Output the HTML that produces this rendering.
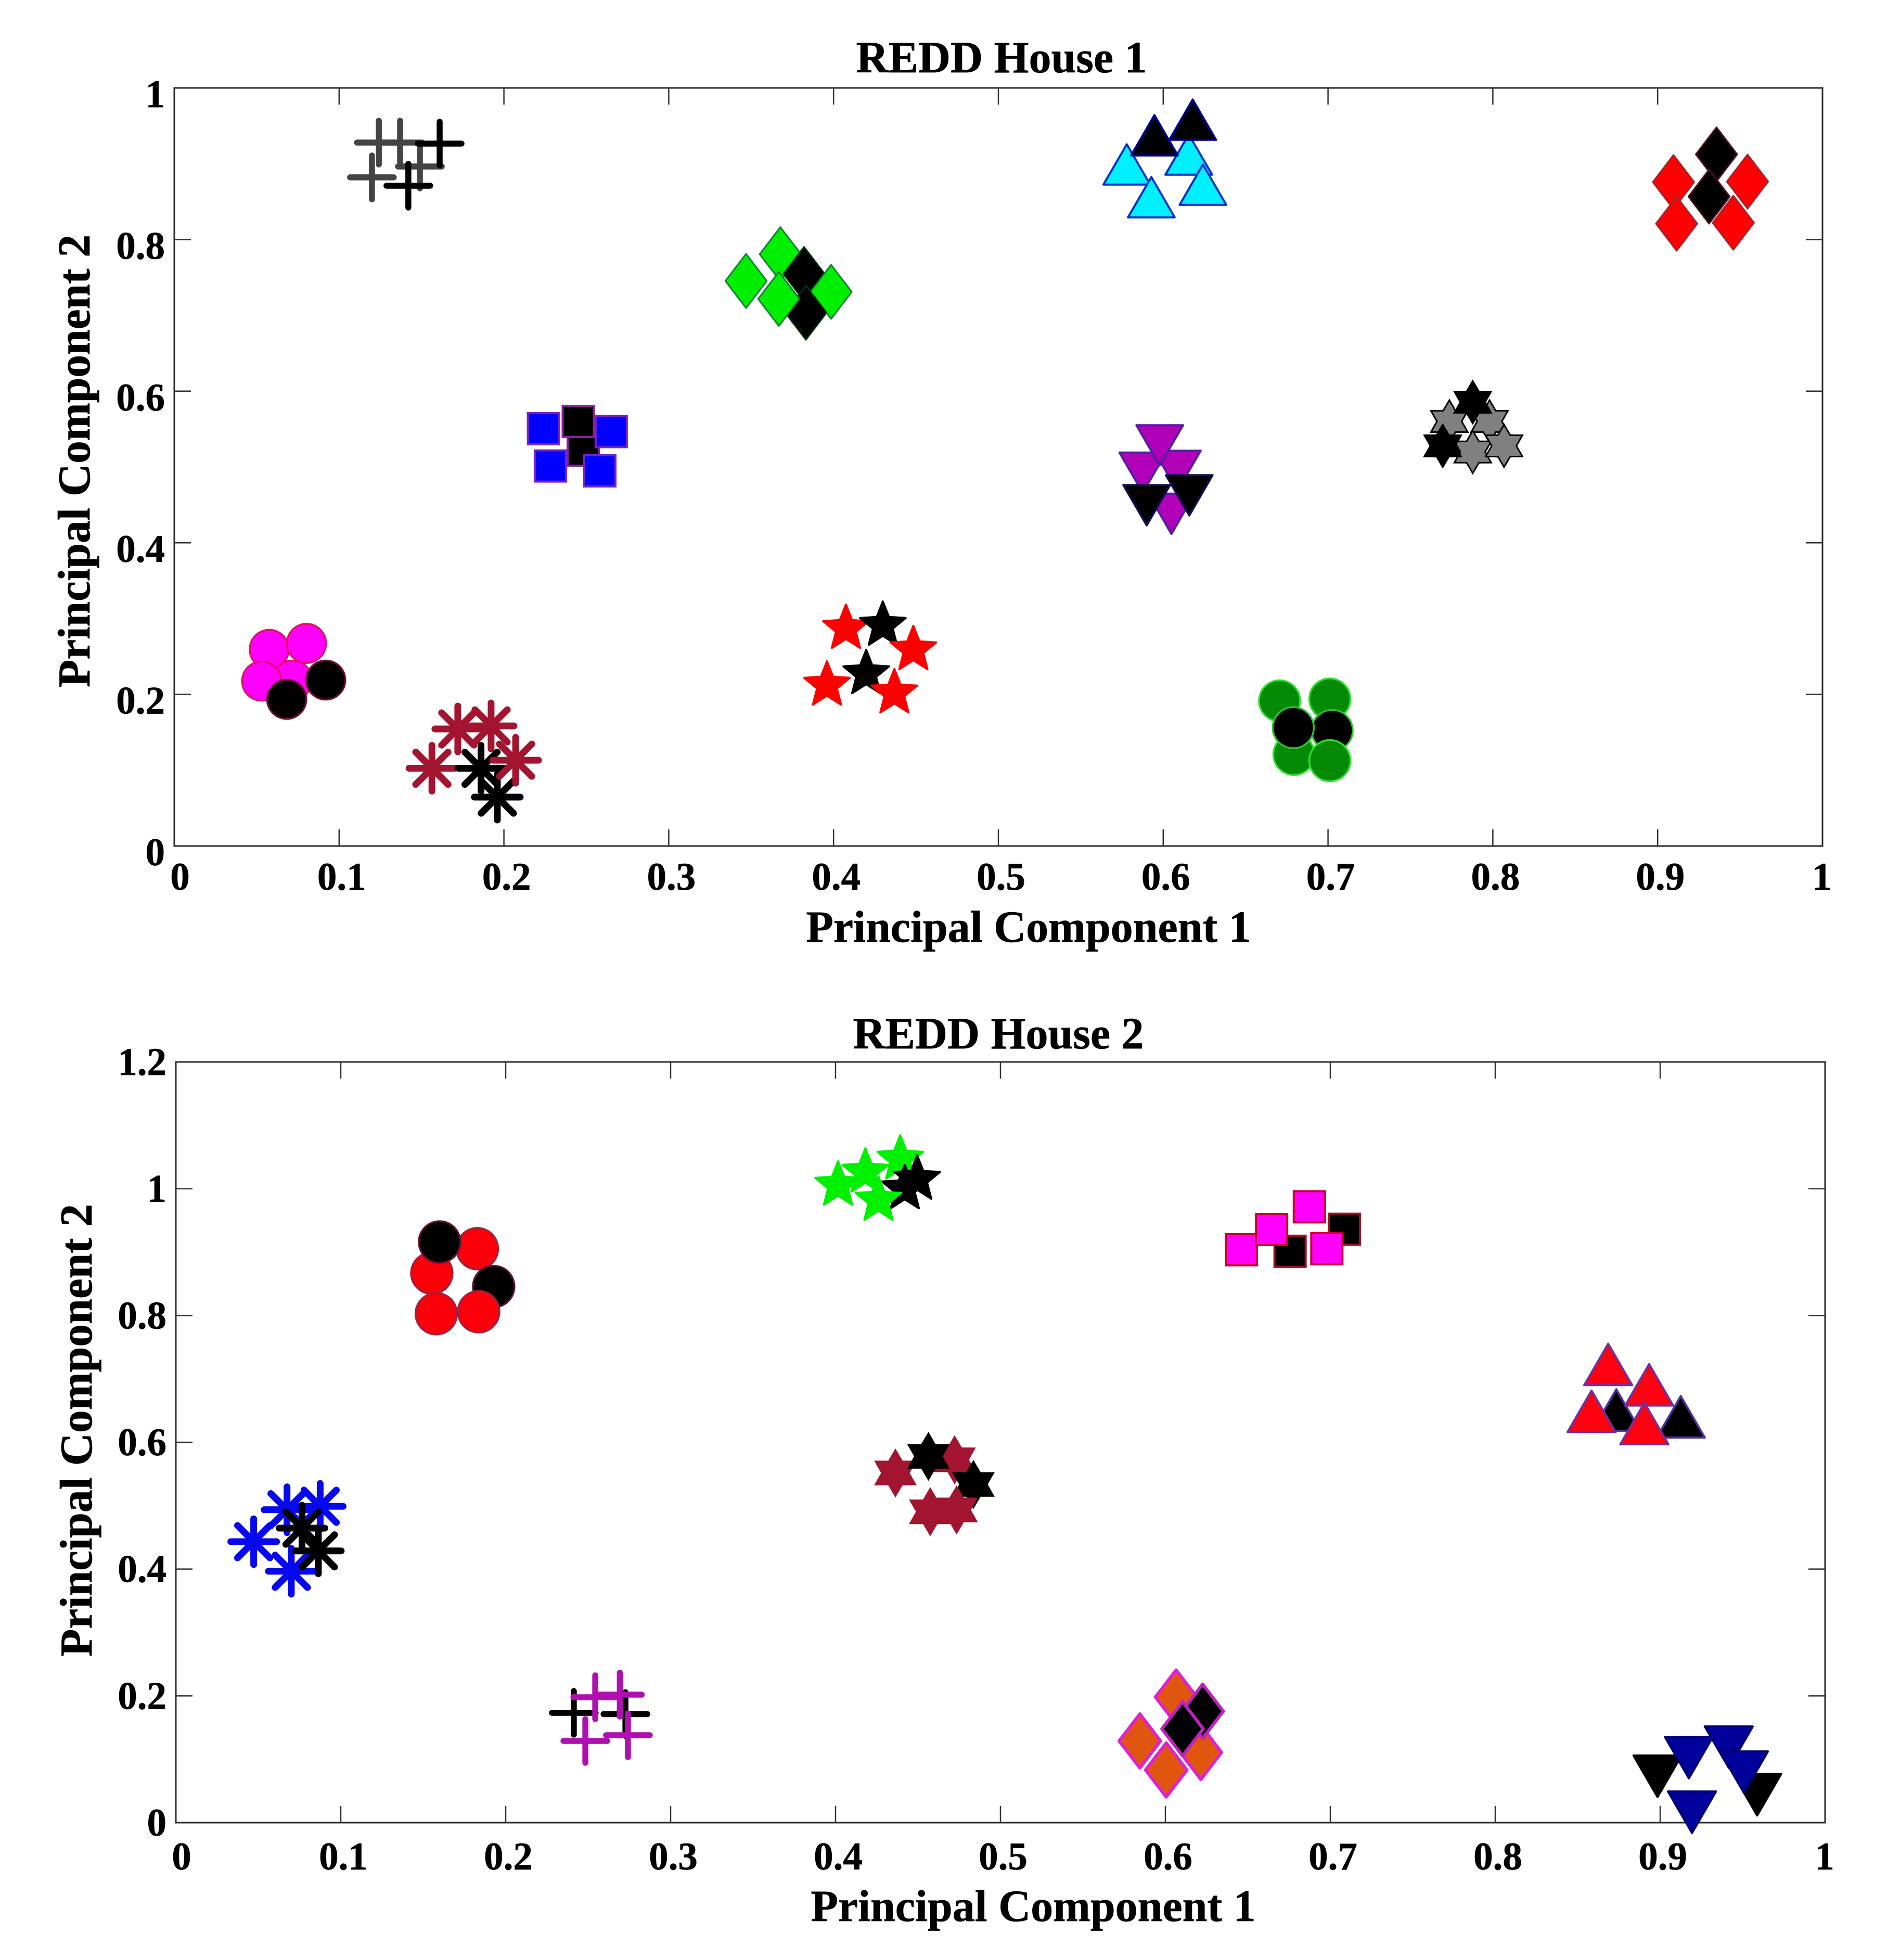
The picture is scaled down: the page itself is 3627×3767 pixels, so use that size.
<!DOCTYPE html>
<html lang="en">
<head>
<meta charset="utf-8">
<title>REDD House 1 and 2 principal component scatter</title>
<style>
html,body{margin:0;padding:0;background:#fff;}
#chart{display:block;width:3627px;height:3767px;background:#fff;}
text{font-family:"Liberation Serif",serif;font-weight:bold;fill:#000;stroke:#000;stroke-width:0.7px;}
</style>
</head>
<body>
<svg id="chart" xmlns="http://www.w3.org/2000/svg" width="3627" height="3767" viewBox="0 0 3627 3767"></svg>
<script>
// ---------- Shared tick data ----------
const xTickValues = [0,0.1,0.2,0.3,0.4,0.5,0.6,0.7,0.8,0.9,1];
const xTickLabels = ['0','0.1','0.2','0.3','0.4','0.5','0.6','0.7','0.8','0.9','1'];
const yTickValuesHouse1 = [0,0.2,0.4,0.6,0.8,1];
const yTickLabelsHouse1 = ['0','0.2','0.4','0.6','0.8','1'];
const yTickValuesHouse2 = [0,0.2,0.4,0.6,0.8,1,1.2];
const yTickLabelsHouse2 = ['0','0.2','0.4','0.6','0.8','1','1.2'];

// ---------- House 1 data ----------
const h1PlusX = [0.1241,0.1370,0.1490,0.1199,0.1610,0.1420];
const h1PlusY = [0.9279,0.9279,0.8964,0.8820,0.9266,0.8710];
const h1CyanTriX = [0.5779,0.6155,0.6241,0.5928,0.5947,0.6179];
const h1CyanTriY = [0.8991,0.9122,0.8723,0.8559,0.9375,0.9581];
const h1RedDiaX = [0.9096,0.9545,0.9115,0.9459,0.9357,0.9312];
const h1RedDiaY = [0.8758,0.8765,0.8209,0.8222,0.9124,0.8566];
const h1GreenDiaX = [0.3469,0.3677,0.3821,0.3985,0.3832,0.3668];
const h1GreenDiaY = [0.7454,0.7807,0.7546,0.7310,0.7035,0.7217];
const h1BlueSqX = [0.2481,0.2240,0.2651,0.2451,0.2282,0.2582];
const h1BlueSqY = [0.5223,0.5505,0.5467,0.5601,0.5013,0.4949];
const h1PurpleTriX = [0.6050,0.5876,0.6086,0.5979,0.5900,0.6158];
const h1PurpleTriY = [0.4382,0.4925,0.4949,0.5285,0.4496,0.4626];
const h1GrayHexX = [0.7736,0.7980,0.7878,0.8068,0.7878,0.7696];
const h1GrayHexY = [0.5601,0.5601,0.5198,0.5278,0.5855,0.5278];
const h1PinkCircX = [0.0576,0.0802,0.0717,0.0530,0.0919,0.0682];
const h1PinkCircY = [0.2594,0.2673,0.2189,0.2176,0.2189,0.1935];
const h1MaroonAstX = [0.1720,0.1922,0.1563,0.1861,0.1960,0.2071];
const h1MaroonAstY = [0.1544,0.1585,0.1026,0.1026,0.0645,0.1132];
const h1RedStarX = [0.4075,0.4299,0.4198,0.4484,0.3960,0.4369];
const h1RedStarY = [0.2869,0.2910,0.2272,0.2588,0.2121,0.2018];
const h1GreenCircX = [0.6706,0.7011,0.6793,0.7025,0.6789,0.7011];
const h1GreenCircY = [0.1915,0.1939,0.1208,0.1524,0.1561,0.1126];

// ---------- House 2 data ----------
const h2GreenStarX = [0.4015,0.4181,0.4392,0.4420,0.4495,0.4260];
const h2GreenStarY = [1.0055,1.0260,1.0465,0.9997,1.0148,0.9817];
const h2PinkSqX = [0.6756,0.7085,0.6461,0.6644,0.6873,0.6979];
const h2PinkSqY = [0.9013,0.9360,0.9037,0.9357,0.9715,0.9053];
const h2RedCircX = [0.1552,0.1828,0.1599,0.1927,0.1579,0.1836];
const h2RedCircY = [0.8668,0.9054,0.9160,0.8457,0.8028,0.8060];
const h2RedTriX = [0.8734,0.9125,0.8685,0.8933,0.8584,0.8904];
const h2RedTriY = [0.6509,0.6402,0.7228,0.6906,0.6488,0.6296];
const h2BlueAstX = [0.0472,0.0674,0.0875,0.0700,0.0765,0.0864];
const h2BlueAstY = [0.4432,0.4936,0.4990,0.3965,0.4646,0.4287];
const h2MaroonHexX = [0.4363,0.4722,0.4563,0.4836,0.4574,0.4734];
const h2MaroonHexY = [0.5516,0.5724,0.5778,0.5335,0.4904,0.4933];
const h2PlusX = [0.2413,0.2726,0.2543,0.2692,0.2483,0.2741];
const h2PlusY = [0.1732,0.1711,0.1978,0.2019,0.1289,0.1379];
const h2OrangeDiaX = [0.6065,0.5845,0.6005,0.6215,0.6226,0.6104];
const h2OrangeDiaY = [0.1981,0.1289,0.0831,0.1108,0.1757,0.1480];
const h2NavyTriX = [0.8984,0.9174,0.9416,0.9588,0.9508,0.9193];
const h2NavyTriY = [0.0731,0.1026,0.1190,0.0440,0.0796,0.0164];

// ---------- Cluster wiring and styling ----------
const house1Clusters = [
 {name:'gray-plus',x:h1PlusX,y:h1PlusY,marker:'plus',fill:'#444444',edge:'#444444',darkEdge:'#000000',dark:[4,5]},
 {name:'cyan-triangle',x:h1CyanTriX,y:h1CyanTriY,marker:'up',scale:1.02,fill:'#00f0ff',edge:'#0030d0',darkEdge:'#000090',dark:[4,5]},
 {name:'red-diamond',x:h1RedDiaX,y:h1RedDiaY,marker:'diamond',scale:1.02,fill:'#ff0000',edge:'#a82030',darkEdge:'#501020',dark:[4,5]},
 {name:'green-diamond',x:h1GreenDiaX,y:h1GreenDiaY,marker:'diamond',scale:1.02,fill:'#00ee00',edge:'#108030',darkEdge:'#083010',dark:[2,4]},
 {name:'blue-square',x:h1BlueSqX,y:h1BlueSqY,marker:'square',fill:'#0000ff',edge:'#7a20c8',darkEdge:'#8a20a0',dark:[0,3]},
 {name:'purple-triangle',x:h1PurpleTriX,y:h1PurpleTriY,marker:'down',scale:1.02,fill:'#b000b8',edge:'#5020a0',darkEdge:'#101050',dark:[4,5]},
 {name:'gray-hexagram',x:h1GrayHexX,y:h1GrayHexY,marker:'hex',scale:0.95,fill:'#808080',edge:'#000000',darkEdge:'#000000',dark:[4,5]},
 {name:'pink-circle',x:h1PinkCircX,y:h1PinkCircY,marker:'circle',scale:0.99,fill:'#ff00ff',edge:'#e01060',darkEdge:'#701030',dark:[4,5]},
 {name:'maroon-asterisk',x:h1MaroonAstX,y:h1MaroonAstY,marker:'asterisk',fill:'#a2142f',edge:'#a2142f',darkEdge:'#000000',dark:[3,4]},
 {name:'red-star',x:h1RedStarX,y:h1RedStarY,marker:'star',fill:'#ff0000',edge:'#ff0000',darkEdge:'#000000',dark:[1,2]},
 {name:'green-circle',x:h1GreenCircX,y:h1GreenCircY,marker:'circle',scale:1.04,fill:'#058a05',edge:'#30e030',darkEdge:'#30c030',dark:[3,4]}
];
const house2Clusters = [
 {name:'green-star',x:h2GreenStarX,y:h2GreenStarY,marker:'star',fill:'#00f000',edge:'#00f000',darkEdge:'#000000',dark:[3,4]},
 {name:'pink-square',x:h2PinkSqX,y:h2PinkSqY,marker:'square',fill:'#ff00ff',edge:'#c80030',darkEdge:'#a01020',dark:[0,1]},
 {name:'red-circle',x:h2RedCircX,y:h2RedCircY,marker:'circle',scale:1.05,fill:'#fa0008',edge:'#a02040',darkEdge:'#601030',dark:[2,3]},
 {name:'red-triangle',x:h2RedTriX,y:h2RedTriY,marker:'up',scale:1.05,fill:'#ff0010',edge:'#7030a0',darkEdge:'#5030a0',dark:[0,1]},
 {name:'blue-asterisk',x:h2BlueAstX,y:h2BlueAstY,marker:'asterisk',fill:'#0808ee',edge:'#0808ee',darkEdge:'#000000',dark:[4,5]},
 {name:'maroon-hexagram',x:h2MaroonHexX,y:h2MaroonHexY,marker:'hex',scale:1.03,fill:'#a2142f',edge:'#a2142f',darkEdge:'#000000',dark:[2,3]},
 {name:'magenta-plus',x:h2PlusX,y:h2PlusY,marker:'plus',fill:'#b010b0',edge:'#b010b0',darkEdge:'#000000',dark:[0,1]},
 {name:'orange-diamond',x:h2OrangeDiaX,y:h2OrangeDiaY,marker:'diamond',scale:1.02,fill:'#e0560f',edge:'#e020d0',darkEdge:'#c020c0',dark:[4,5],edgeWidth:6},
 {name:'navy-triangle',x:h2NavyTriX,y:h2NavyTriY,marker:'down',scale:1.05,fill:'#00009a',edge:'#000070',darkEdge:'#000000',dark:[0,3]}
];

const SVG_NS = 'http://www.w3.org/2000/svg';
const svg = document.getElementById('chart');

function make(tag, attrs, parent){
  const el = document.createElementNS(SVG_NS, tag);
  Object.keys(attrs).forEach(function(k){ el.setAttribute(k, attrs[k]); });
  parent.appendChild(el);
  return el;
}

function polyPoints(cx, cy, pts){
  return pts.map(function(p){ return (cx+p[0]).toFixed(1)+','+(cy+p[1]).toFixed(1); }).join(' ');
}

function drawMarker(parent, type, cx, cy, s, fill, edge, edgeWidth){
  let el;
  if(type === 'circle'){
    el = make('circle',{cx:cx,cy:cy,r:38*s,fill:fill,stroke:edge,'stroke-width':3.5},parent);
  } else if(type === 'square'){
    el = make('rect',{x:cx-30,y:cy-30,width:60,height:60,fill:fill,stroke:edge,'stroke-width':4},parent);
  } else if(type === 'diamond'){
    const w = 39*s, h = 51*s;
    el = make('polygon',{points:polyPoints(cx,cy,[[0,-h],[w,0],[0,h],[-w,0]]),fill:fill,stroke:edge,'stroke-width':edgeWidth||3,'stroke-linejoin':'round'},parent);
  } else if(type === 'up' || type === 'down'){
    const d = type === 'up' ? 1 : -1, w = 44*s, h = 38*s;
    el = make('polygon',{points:polyPoints(cx,cy,[[0,-h*d],[w,h*d],[-w,h*d]]),fill:fill,stroke:edge,'stroke-width':4,'stroke-linejoin':'round'},parent);
  } else if(type === 'star'){
    const pts = [];
    for(let i=0;i<10;i++){
      const r = (i%2===0 ? 46 : 20)*s, a = -Math.PI/2 + i*Math.PI/5;
      pts.push([r*Math.cos(a), r*Math.sin(a)]);
    }
    el = make('polygon',{points:polyPoints(cx,cy,pts),fill:fill,stroke:edge,'stroke-width':4,'stroke-linejoin':'round'},parent);
  } else if(type === 'hex'){
    const pts = [];
    for(let i=0;i<12;i++){
      const r = (i%2===0 ? 43 : 25)*s, a = -Math.PI/2 + i*Math.PI/6;
      pts.push([r*Math.cos(a), r*Math.sin(a)]);
    }
    el = make('polygon',{points:polyPoints(cx,cy,pts),fill:fill,stroke:edge,'stroke-width':3,'stroke-linejoin':'miter'},parent);
  } else if(type === 'plus'){
    el = make('path',{d:'M'+(cx-42)+' '+cy+'H'+(cx+42)+'M'+cx+' '+(cy-42)+'V'+(cy+42),fill:'none',stroke:edge,'stroke-width':11.5,'stroke-linecap':'round'},parent);
  } else {
    let d = '';
    for(let i=0;i<4;i++){
      const a = i*Math.PI/4, dx = 44*Math.cos(a), dy = 44*Math.sin(a);
      d += 'M'+(cx-dx).toFixed(1)+' '+(cy-dy).toFixed(1)+'L'+(cx+dx).toFixed(1)+' '+(cy+dy).toFixed(1);
    }
    el = make('path',{d:d,fill:'none',stroke:edge,'stroke-width':13,'stroke-linecap':'round'},parent);
  }
  return el;
}

function drawPanel(opts){
  const g = make('g',{},svg);
  
  
  const w = opts.right - opts.left, h = opts.bottom - opts.top;
  const xScale = function(v){ return opts.left + v*w; };
  const yScale = function(v){ return opts.bottom - v/opts.yMax*h; };

  // frame
  const frame = make('rect',{x:opts.left,y:opts.top,width:w,height:h,fill:'#fff',stroke:'#2a2a2a','stroke-width':3},g);
  
  

  // x ticks
  xTickValues.forEach(function(v,i){
    if(v===0 || v===1) return;
    const px = xScale(v);
    const bottomTick = make('line',{x1:px,x2:px,y1:opts.bottom,y2:opts.bottom-32,stroke:'#333','stroke-width':2.5},g);
    
    
    if(!(opts.skipTopTick === v)){
      const topTick = make('line',{x1:px,x2:px,y1:opts.top,y2:opts.top+32,stroke:'#333','stroke-width':2.5},g);
      
      
    }
  });
  xTickLabels.forEach(function(label,i){
    const off = label==='0' ? 11 : (label==='1' ? -1 : 5);
    const t = make('text',{x:xScale(xTickValues[i])+off,y:opts.xTickBase,'font-size':75,'text-anchor':'middle'},g);
    t.textContent = label;
    
    
  });

  // y ticks
  opts.yValues.forEach(function(v,i){
    const py = yScale(v);
    if(v!==0 && v!==opts.yMax){
      const leftTick = make('line',{x1:opts.left,x2:opts.left+32,y1:py,y2:py,stroke:'#333','stroke-width':2.5},g);
      
      
      if(!(opts.skipRightTick === v)){
        const rightTick = make('line',{x1:opts.right,x2:opts.right-32,y1:py,y2:py,stroke:'#333','stroke-width':2.5},g);
        
        
      }
    }
    const t = make('text',{x:opts.left-18,y:py+opts.yTickDrop,'font-size':75,'text-anchor':'end'},g);
    t.textContent = opts.yLabels[i];
    
    
  });

  // titles
  const title = make('text',{x:opts.titleX,y:opts.titleY,'font-size':86,'text-anchor':'middle'},g);
  title.textContent = opts.title;
  
  

  const xTitle = make('text',{x:opts.xTitleX,y:opts.xTitleY,'font-size':86,'text-anchor':'middle'},g);
  xTitle.textContent = 'Principal Component 1';
  
  

  const yTitle = make('text',{x:0,y:0,'font-size':87.5,'text-anchor':'middle',transform:'translate('+opts.yTitleX+' '+opts.yTitleY+') rotate(-90)'},g);
  yTitle.textContent = 'Principal Component 2';
  
  

  // clusters
  opts.clusters.forEach(function(c){
    const cg = make('g',{},g);
    
    
    c.x.forEach(function(xv,i){
      const isDark = c.dark.indexOf(i) >= 0;
      const fill = isDark ? '#000000' : c.fill;
      const edge = isDark ? c.darkEdge : c.edge;
      const m = drawMarker(cg, c.marker, xScale(xv), yScale(c.y[i]), c.scale||1, fill, edge, c.edgeWidth);
      
      
    });
  });
}

drawPanel({
  id:'house-1', title:'REDD House 1',
  left:335, right:3503, top:169, bottom:1626, yMax:1,
  yValues:yTickValuesHouse1, yLabels:yTickLabelsHouse1,
  xTickBase:1710, yTickDrop:37,
  titleX:1925, titleY:139,
  xTitleX:1977, xTitleY:1810,
  yTitleX:172, yTitleY:886,
  clusters:house1Clusters
});

drawPanel({
  id:'house-2', title:'REDD House 2',
  left:338, right:3508, top:2041, bottom:3503, yMax:1.2,
  yValues:yTickValuesHouse2, yLabels:yTickLabelsHouse2,
  xTickBase:3593, yTickDrop:25,
  titleX:1919, titleY:2015,
  xTitleX:1986, xTitleY:3692,
  yTitleX:176, yTitleY:2749,
  skipTopTick:0.6, skipRightTick:0.6,
  clusters:house2Clusters
});
</script>
</body>
</html>
